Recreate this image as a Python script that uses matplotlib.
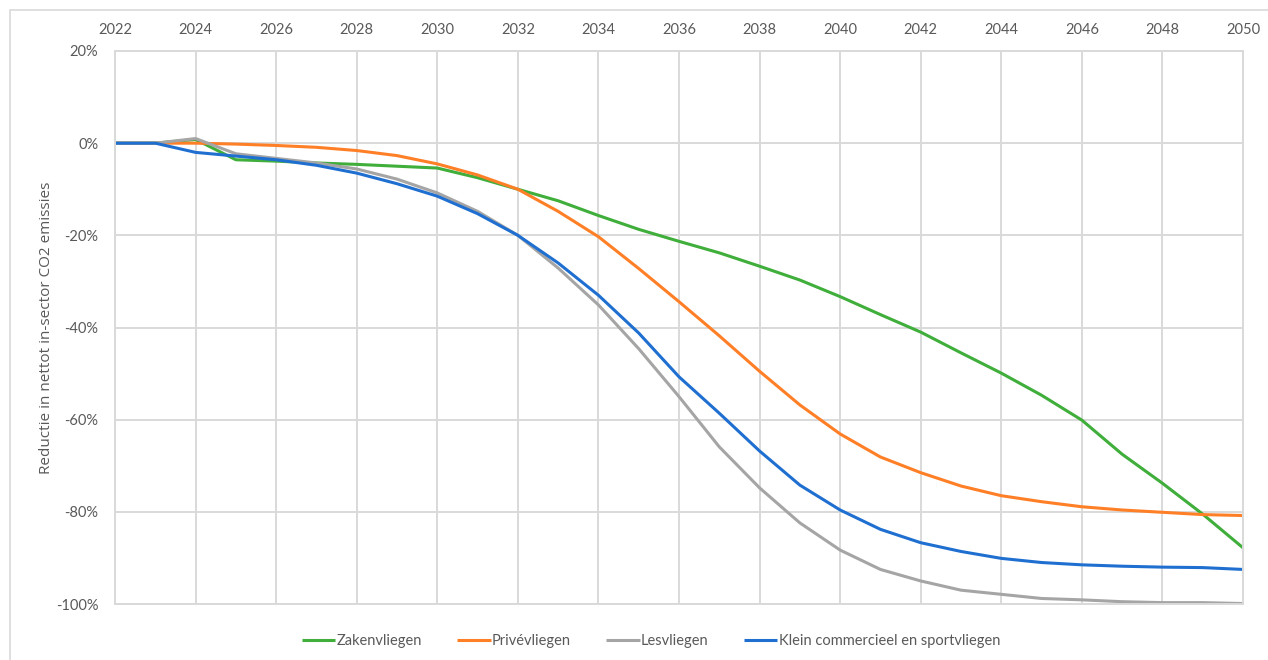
''' Reductie in-sector CO2 emissies per luchtvaartsegment '''

import numpy as np
import matplotlib.pyplot as plt
from matplotlib.patches import Rectangle
from matplotlib.ticker import FuncFormatter, MultipleLocator

#%% data (% change vs 2022)

years = np.arange(2022, 2051)

zakenvliegen = [0, 0, 0.8, -3.6, -3.9, -4.3, -4.6, -5.0, -5.4, -7.5,
                -10.0, -12.5, -15.7, -18.7, -21.3, -23.8, -26.7, -29.7, -33.3, -37.2,
                -41.0, -45.5, -49.9, -54.7, -60.1, -67.5, -73.8, -80.5, -87.8]

privevliegen = [0, 0, 0, -0.2, -0.5, -0.9, -1.6, -2.7, -4.5, -6.9,
                -10.0, -14.8, -20.3, -27.2, -34.4, -41.8, -49.5, -56.8, -63.1, -68.1,
                -71.5, -74.4, -76.5, -77.8, -78.9, -79.6, -80.1, -80.6, -80.8]

lesvliegen = [0, 0, 1.0, -2.3, -3.3, -4.3, -5.6, -7.8, -10.8, -14.8,
              -20.0, -27.1, -35.1, -44.6, -55.0, -65.9, -74.8, -82.4, -88.3, -92.5,
              -95.0, -97.0, -97.9, -98.8, -99.1, -99.5, -99.7, -99.7, -99.9]

klein_commercieel = [0, 0, -2.0, -2.8, -3.6, -4.8, -6.5, -8.8, -11.5, -15.3,
                     -20.0, -26.0, -33.0, -41.2, -50.7, -58.6, -66.8, -74.2, -79.6, -83.8,
                     -86.7, -88.6, -90.1, -91.0, -91.5, -91.8, -92.0, -92.1, -92.5]

series = [('Zakenvliegen', zakenvliegen, '#3fae3a'),
          ('Privévliegen', privevliegen, '#ff7f27'),
          ('Lesvliegen', lesvliegen, '#a5a5a5'),
          ('Klein commercieel en sportvliegen', klein_commercieel, '#1f6fd1')]

#%% plot

plt.rcParams['font.family'] = ['Lato', 'DejaVu Sans']
txtCol = '#595959'
gridCol = '#d9d9d9'

fig = plt.figure(figsize=(12.68, 6.6), dpi=100)
ax = fig.add_axes([115/1268, 1 - 604/660, (1243 - 115)/1268, (604 - 51)/660])

for name, vals, col in series:
    ax.plot(years, vals, color=col, lw=2.2, label=name, solid_capstyle='butt')

ax.set_xlim(2022, 2050)
ax.set_ylim(-100, 20)
ax.xaxis.set_major_locator(MultipleLocator(2))
ax.yaxis.set_major_locator(MultipleLocator(20))
ax.yaxis.set_major_formatter(FuncFormatter(lambda v, p: f'{v:.0f}%'))
ax.xaxis.tick_top()
ax.tick_params(axis='both', length=0, labelsize=10.5, colors=txtCol)
ax.tick_params(axis='x', pad=10)
ax.tick_params(axis='y', pad=12)
ax.grid(True, color=gridCol, lw=1.4)
ax.set_axisbelow(True)
for sp in ax.spines.values():
    sp.set_color(gridCol)
    sp.set_linewidth(1.4)

ax.set_ylabel('Reductie in nettot in-sector CO2 emissies', fontsize=11,
              color=txtCol, family=['Open Sans', 'DejaVu Sans'], labelpad=1)

leg = ax.legend(loc='upper center', bbox_to_anchor=(0.475, -0.03), ncol=4,
                frameon=False, fontsize=10.5, handlelength=2.3, handletextpad=0.1,
                columnspacing=2.4)
for t in leg.get_texts():
    t.set_color(txtCol)

# outer chart border
fig.patches.append(Rectangle((10/1268, -0.01), 1.02, 1 - 10/660 + 0.01,
                             transform=fig.transFigure, fill=False,
                             edgecolor=gridCol, lw=1.2))

fig.savefig('out.png', dpi=100)
